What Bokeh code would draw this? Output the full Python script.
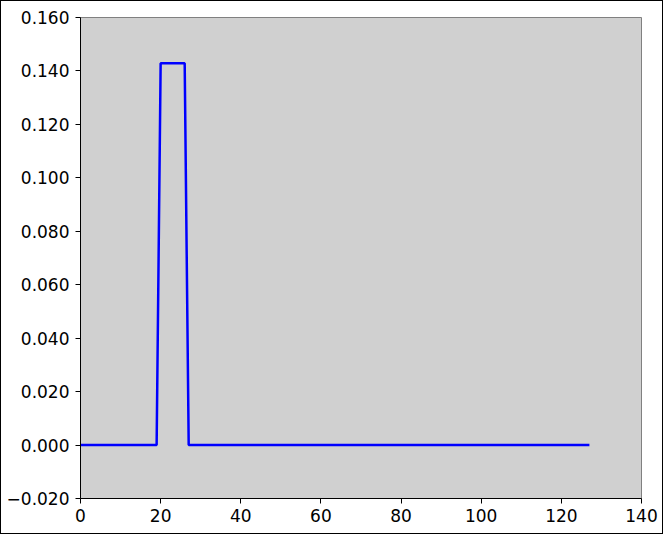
from bokeh.plotting import figure
from bokeh.models import Range1d, FixedTicker, CustomJSTickFormatter
from bokeh.embed import file_html
from bokeh.resources import INLINE

x_vals = list(range(128))
y_vals = [
    0.0, 0.0, 0.0, 0.0, 0.0, 0.0, 0.0, 0.0, 0.0, 0.0,
    0.0, 0.0, 0.0, 0.0, 0.0, 0.0, 0.0, 0.0, 0.0, 0.0,
    0.1429, 0.1429, 0.1429, 0.1429, 0.1429, 0.1429, 0.1429,
    0.0, 0.0, 0.0,
    0.0, 0.0, 0.0, 0.0, 0.0, 0.0, 0.0, 0.0, 0.0, 0.0,
    0.0, 0.0, 0.0, 0.0, 0.0, 0.0, 0.0, 0.0, 0.0, 0.0,
    0.0, 0.0, 0.0, 0.0, 0.0, 0.0, 0.0, 0.0, 0.0, 0.0,
    0.0, 0.0, 0.0, 0.0, 0.0, 0.0, 0.0, 0.0, 0.0, 0.0,
    0.0, 0.0, 0.0, 0.0, 0.0, 0.0, 0.0, 0.0, 0.0, 0.0,
    0.0, 0.0, 0.0, 0.0, 0.0, 0.0, 0.0, 0.0, 0.0, 0.0,
    0.0, 0.0, 0.0, 0.0, 0.0, 0.0, 0.0, 0.0, 0.0, 0.0,
    0.0, 0.0, 0.0, 0.0, 0.0, 0.0, 0.0, 0.0, 0.0, 0.0,
    0.0, 0.0, 0.0, 0.0, 0.0, 0.0, 0.0, 0.0, 0.0, 0.0,
    0.0, 0.0, 0.0, 0.0, 0.0, 0.0, 0.0, 0.0,
]
x_ticks = [0, 20, 40, 60, 80, 100, 120, 140]
y_ticks = [-0.02, 0.0, 0.02, 0.04, 0.06, 0.08, 0.10, 0.12, 0.14, 0.16]

p = figure(width=663, height=534, output_backend="svg", toolbar_location=None,
           x_range=Range1d(0, 140), y_range=Range1d(-0.02, 0.16),
           min_border_left=79, min_border_right=23, min_border_top=16, min_border_bottom=37)
p.styles = {"border": "1px solid black", "box-sizing": "border-box"}
p.background_fill_color = "#d0d0d0"
p.border_fill_color = "white"
p.outline_line_color = "#808080"
p.outline_line_width = 1
p.grid.visible = False

p.line(x_vals, y_vals, line_color="blue", line_width=2.5)

for ax in (p.xaxis, p.yaxis):
    ax.axis_line_color = "black"
    ax.major_tick_line_color = "black"
    ax.major_tick_out = 5
    ax.major_tick_in = 0
    ax.minor_tick_line_color = None
    ax.major_label_text_font = "DejaVu Sans"
    ax.major_label_text_font_size = "17px"
    ax.major_label_text_color = "black"
p.xaxis.ticker = FixedTicker(ticks=x_ticks)
p.yaxis.ticker = FixedTicker(ticks=y_ticks)
p.yaxis.formatter = CustomJSTickFormatter(
    code='return (tick < -1e-9 ? "\\u2212" : "") + Math.abs(tick).toFixed(3);')
p.xaxis.major_label_standoff = 5
p.yaxis.major_label_standoff = 6

open("out.html", "w").write(file_html(p, INLINE))
